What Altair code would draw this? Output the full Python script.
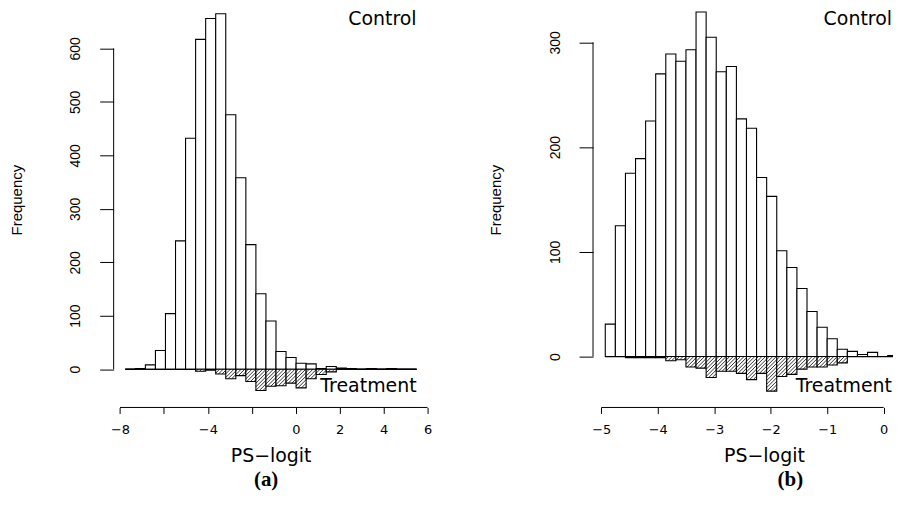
import math
import altair as alt
import pandas as pd

# ---------------- data ----------------
# panel (a): 29 bins
a_bin_start = -7.76
a_bin_width = 0.4574
a_control = [0, 1, 8, 35, 104, 240, 432, 617, 656, 665, 476, 358, 233, 141, 90,
             33, 22, 11, 10, 1, 5, 2, 1, 0, 1, 0, 1, 0, 0]
a_treatment = [0, 0, 0, 0, 0, 0, 0, 4, 2, 9, 18, 12, 23, 40, 32,
               31, 26, 35, 18, 10, 5, 0, 0, 0, 0, 0, 0, 0, 0]
a_x_ticks = [-8, -6, -4, -2, 0, 2, 4, 6]
a_x_hidden = [-6, -2]
a_y_ticks = [0, 100, 200, 300, 400, 500, 600]

# panel (b): 29 bins
b_bin_start = -4.929
b_bin_width = 0.17858
b_control = [31, 125, 175, 189, 225, 270, 289, 282, 293, 329, 305, 272, 277, 227, 218,
             171, 153, 101, 85, 65, 43, 28, 17, 7, 5, 2, 4, 0, 1]
b_treatment = [0, 0, 1, 1, 1, 1, 4, 3, 10, 11, 20, 14, 14, 16, 22,
               16, 33, 19, 17, 12, 10, 10, 8, 6, 0, 0, 0, 0, 0]
b_x_ticks = [-5, -4, -3, -2, -1, 0]
b_x_hidden = []
b_y_ticks = [0, 100, 200, 300]

x_title = "PS\u2212logit"
y_title = "Frequency"
label_top = "Control"
label_bottom = "Treatment"

# ---------------- layout / style ----------------
H = 400
TXT_FONT = "DejaVu Sans"
NARROW = "Liberation Sans Narrow, Liberation Sans"


def panel(control, treatment, bin_start, bin_width, x_domain, y_domain,
          x_ticks, x_hidden, y_ticks, width, tag, tag_x, title_x, right_text_x):
    n = len(control)
    lo = [bin_start + i * bin_width for i in range(n)]
    hi = [bin_start + (i + 1) * bin_width for i in range(n)]
    bars = pd.DataFrame({"lo": lo, "hi": hi, "control": control,
                         "treat": [-t for t in treatment], "zero": [0] * n})

    xs = alt.Scale(domain=x_domain, nice=False, zero=False)
    ys = alt.Scale(domain=y_domain, nice=False, zero=False)

    hidden = " || ".join(f"datum.value == {v}" for v in x_hidden) or "false"
    x_axis = alt.Axis(values=x_ticks, domain=False, grid=False, title=None, format="d",
                      tickSize=6, tickColor="black", tickWidth=1,
                      labelFont=TXT_FONT, labelFontSize=13, labelColor="black",
                      labelPadding=10, labelFlush=False, labelOverlap=False,
                      labelExpr=f"({hidden}) ? '' : datum.label")
    y_axis = alt.Axis(values=y_ticks, domain=False, grid=False, title=None, format="d",
                      tickSize=14, tickColor="black", tickWidth=1,
                      labelFont=NARROW, labelFontSize=14, labelColor="black",
                      labelAngle=270, labelAlign="center", labelBaseline="alphabetic",
                      labelPadding=20, labelFlush=False, labelOverlap=False)

    # hatch segments for the treatment bars (45 degree lines, clipped to each bar)
    kx = width / (x_domain[1] - x_domain[0])
    ky = H / (y_domain[1] - y_domain[0])
    step = 3.6
    segs = []
    for l, h, t in zip(lo, hi, treatment):
        if t <= 0:
            continue
        L = (l - x_domain[0]) * kx
        R = (h - x_domain[0]) * kx
        Yt = (y_domain[1] - 0) * ky
        Yb = (y_domain[1] + t) * ky
        k = math.ceil((L + Yt) / step)
        while k * step <= R + Yb:
            c = k * step
            xa = max(L, c - Yb)
            xb = min(R, c - Yt)
            if xb - xa > 0.3:
                segs.append({
                    "x1": x_domain[0] + xa / kx, "y1": y_domain[1] - (c - xa) / ky,
                    "x2": x_domain[0] + xb / kx, "y2": y_domain[1] - (c - xb) / ky,
                })
            k += 1
    hatch = pd.DataFrame(segs)

    base = pd.DataFrame({"x": [lo[0]], "x2": [hi[-1]], "y": [0]})
    baseline = alt.Chart(base).mark_rule(color="black", strokeWidth=1.4, clip=True).encode(
        x=alt.X("x:Q", scale=xs, axis=x_axis), x2="x2:Q",
        y=alt.Y("y:Q", scale=ys, axis=y_axis))

    ctrl = alt.Chart(bars).mark_rect(fill="white", stroke="black", strokeWidth=1.1,
                                     clip=True).encode(
        x=alt.X("lo:Q", scale=xs), x2="hi:Q",
        y=alt.Y("zero:Q", scale=ys), y2="control:Q")

    trt = alt.Chart(bars).mark_rect(fill="white", stroke="black", strokeWidth=1.1,
                                    clip=True).encode(
        x=alt.X("lo:Q", scale=xs), x2="hi:Q",
        y=alt.Y("zero:Q", scale=ys), y2="treat:Q")

    hat = alt.Chart(hatch).mark_rule(color="black", strokeWidth=0.8, clip=True).encode(
        x=alt.X("x1:Q", scale=xs), x2="x2:Q",
        y=alt.Y("y1:Q", scale=ys), y2="y2:Q")

    yline = alt.Chart(pd.DataFrame({"a": [min(y_ticks)], "b": [max(y_ticks)]})).mark_rule(
        color="black", strokeWidth=1).encode(
        x=alt.value(0), y=alt.Y("a:Q", scale=ys), y2="b:Q")
    xline = alt.Chart(pd.DataFrame({"a": [min(x_ticks)], "b": [max(x_ticks)]})).mark_rule(
        color="black", strokeWidth=1).encode(
        y=alt.value(H), x=alt.X("a:Q", scale=xs), x2="b:Q")

    # invisible spacer fixing the left extent of the panel
    spacer = alt.Chart(pd.DataFrame({"a": [0]})).mark_rule(opacity=0, strokeWidth=1).encode(
        x=alt.value(-106), y=alt.value(0), y2=alt.value(2))

    def txt(s, x, y, size, font, align="center", angle=0, weight="normal"):
        kw = dict(font=font, fontSize=size, align=align, baseline="alphabetic",
                  color="black", fontWeight=weight)
        if angle:
            kw["angle"] = angle
        return alt.Chart(pd.DataFrame({"t": [s]})).mark_text(**kw).encode(
            x=alt.value(x), y=alt.value(y), text="t:N")

    layers = [
        spacer, baseline, ctrl, trt, hat, yline, xline,
        txt(label_top, right_text_x, 16, 19, TXT_FONT, align="right"),
        txt(label_bottom, right_text_x, 384, 19, TXT_FONT, align="right"),
        txt(x_title, title_x, 455, 19, TXT_FONT),
        txt(tag, tag_x, 479, 21, "Liberation Serif", weight="bold"),
        txt(y_title, -92, 192, 15, NARROW, angle=270),
    ]
    return alt.layer(*layers).properties(width=width, height=H)


left = panel(a_control, a_treatment, a_bin_start, a_bin_width,
             [-8.29, 6.047], [-71.6, 674.1], a_x_ticks, a_x_hidden, a_y_ticks,
             316, "(a)", 153, 158, 304)
right = panel(b_control, b_treatment, b_bin_start, b_bin_width,
              [-5.146, 0.165], [-48.6, 332.1], b_x_ticks, b_x_hidden, b_y_ticks,
              301, "(b)", 198, 172, 300)

chart = alt.hconcat(left, right, spacing=165, bounds="flush").properties(
    padding=0, background="white"
).configure_view(stroke=None)

chart.save("out.html", embed_options={"renderer": "svg", "actions": False})
